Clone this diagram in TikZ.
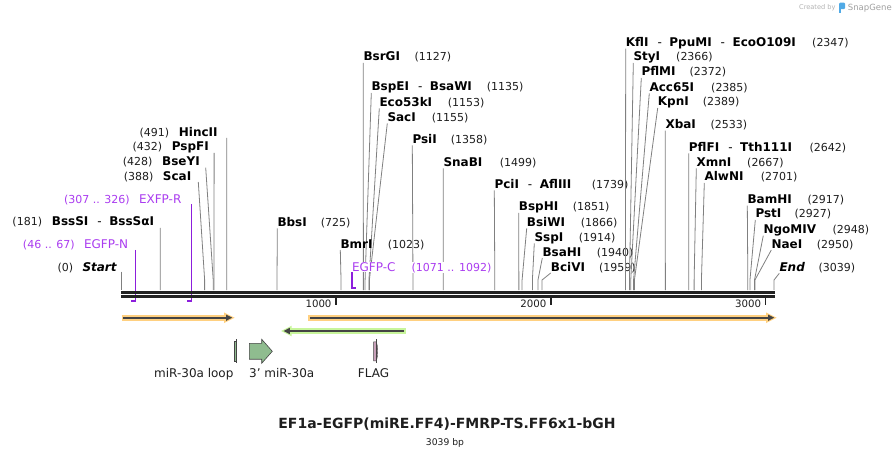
\documentclass[tikz,border=0pt]{standalone}
\usepackage{fontspec}
\setmainfont{DejaVu Sans}
\usetikzlibrary{arrows.meta}
\definecolor{linegray}{RGB}{128,128,128}
\definecolor{primlab}{RGB}{170,60,240}
\definecolor{primdark}{RGB}{140,30,220}
\definecolor{orhalo}{RGB}{255,208,128}
\definecolor{grhalo}{RGB}{200,245,155}
\definecolor{darkarrow}{RGB}{68,68,68}
\definecolor{featgreen}{RGB}{143,188,143}
\definecolor{flagpink}{RGB}{200,160,185}
\definecolor{numcol}{RGB}{30,30,30}
\definecolor{bbcol}{RGB}{34,34,34}
\definecolor{snapgray}{RGB}{160,160,160}
\definecolor{snapblue}{RGB}{80,170,230}
\newcommand\fs[1]{\fontsize{#1}{#1}\selectfont}
\newcommand\bpx[1]{(121.3+#1*0.21478)}
\newcommand\sepdash{\hspace{9pt}{\mdseries -}\hspace{7.5pt}}
% right-hand label: id, name, bp, x of name, x of number, y centre
\newcommand\enzR[6]{%
  \node[ename] (#1) at (#4,#6+4.3) {#2};
  \node[enum] (#1-n) at (#5,#6+4.3) {(#3)};
  \coordinate (#1-k) at ({\bpx{#3}},280);
  \coordinate (#1-b) at ({\bpx{#3}},290);
  \draw[cut] ([yshift=-2pt]#1.base west) -- (#1-k) -- (#1-b);
}
% left-hand label: id, name, bp, x of number, x of name, y centre, line start x, line start y
\newcommand\enzL[8]{%
  \node[enum] (#1-n) at (#4,#6+4.3) {(#3)};
  \node[ename] (#1) at (#5,#6+4.3) {#2};
  \coordinate (#1-s) at (#7,#8);
  \coordinate (#1-k) at ({\bpx{#3}},280);
  \coordinate (#1-b) at ({\bpx{#3}},290);
  \draw[cut] (#1-s) -- (#1-k) -- (#1-b);
}
\begin{document}
\begin{tikzpicture}[x=1pt,y=-1pt,
  ename/.style={anchor=base west, inner sep=0pt, font=\fs{12}\bfseries},
  enum/.style={anchor=base west, inner sep=0pt, font=\fs{11}, text=numcol},
  cut/.style={draw=linegray, line width=0.8pt},
  plab/.style={anchor=base west, inner sep=0.5pt, fill=white, text=primlab},
  pline/.style={draw=primdark, line width=1.6pt},
  flab/.style={anchor=base, inner sep=0pt, font=\fs{12}, text=numcol},
  ticklab/.style={anchor=base east, inner sep=0pt, font=\fs{10.2}, text=numcol},
  halo/.style={line width=5.6pt},
  orfline/.style={line width=2pt, draw=darkarrow}]
\useasboundingbox (0,0) rectangle (896,454);
\fill[white] (0,0) rectangle (896,454);

% ---------- enzyme sites, right-hand labels ----------
\enzR{bsrgi}{BsrGI}{1127}{363.3}{414.3}{56.7}
\enzR{bspei}{BspEI\sepdash BsaWI}{1135}{371.3}{486.7}{86.7}
\enzR{eco53ki}{Eco53kI}{1153}{379.3}{447.7}{102}
\enzR{saci}{SacI}{1155}{387.3}{431.7}{117}
\enzR{psii}{PsiI}{1358}{412.3}{450.7}{139}
\enzR{snabi}{SnaBI}{1499}{443.3}{499.7}{162}
\enzR{pcii}{PciI\sepdash AflIII}{1739}{494.3}{591.7}{184}
\enzR{bsphi}{BspHI}{1851}{518.7}{572.7}{206.7}
\enzR{bsiwi}{BsiWI}{1866}{526.7}{580.7}{222}
\enzR{sspi}{SspI}{1914}{534.3}{578.7}{237}
\enzR{bsahi}{BsaHI}{1940}{542.3}{596.7}{251.7}
\enzR{bcivi}{BciVI}{1959}{550.7}{599}{266.7}
\enzR{bbsi}{BbsI}{725}{277.3}{320.7}{222}
\enzR{bmri}{BmrI}{1023}{340.3}{387.7}{243.7}
\enzR{kfli}{KflI\sepdash PpuMI\sepdash EcoO109I}{2347}{625.7}{812}{42.3}
\enzR{styi}{StyI}{2366}{633.3}{676}{56.7}
\enzR{pflmi}{PflMI}{2372}{641.3}{689.3}{71.7}
\enzR{acc65i}{Acc65I}{2385}{649.3}{711}{87}
\enzR{kpni}{KpnI}{2389}{657.7}{702.7}{101.7}
\enzR{xbai}{XbaI}{2533}{665.3}{710.3}{124.3}
\enzR{pflfi}{PflFI\sepdash Tth111I}{2642}{688.7}{809.3}{147}
\enzR{xmni}{XmnI}{2667}{696.3}{747}{162}
\enzR{alwni}{AlwNI}{2701}{704.3}{760.7}{176.7}
\enzR{bamhi}{BamHI}{2917}{747.3}{807.3}{199.3}
\enzR{psti}{PstI}{2927}{755.3}{794.3}{213.7}
\enzR{ngomiv}{NgoMIV}{2948}{763.3}{832.3}{229.3}
\enzR{naei}{NaeI}{2950}{771.3}{816.7}{243.7}
\enzR{endm}{\itshape End}{3039}{779.3}{818.3}{267}

% ---------- enzyme sites, left-hand labels ----------
\enzL{startm}{\itshape Start}{0}{57.3}{82.3}{266.7}{121.3}{271.7}
\enzL{bsssi}{BssSI\sepdash BssSαI}{181}{12.3}{51.7}{221.7}{160.2}{228}
\enzL{scai}{ScaI}{388}{123.7}{162.7}{176.7}{198.3}{182}
\enzL{bseyi}{BseYI}{428}{122.7}{162}{161.7}{205.7}{167.7}
\enzL{pspfi}{PspFI}{432}{132.3}{171.7}{146.7}{214.1}{153}
\enzL{hincii}{HincII}{491}{139.3}{178.7}{132.3}{226.8}{138}

% ---------- primers ----------
\node[plab, font=\fs{11}] (egfpn-n) at (22.3,248.3) {(46 .. 67)};
\node[plab, font=\fs{12}] (egfpn) at (83.3,248.3) {EGFP-N};
\coordinate (egfpn-t) at (135.6,250);
\coordinate (egfpn-c) at (135.6,300.8);
\coordinate (egfpn-f) at (131.2,300.8);
\draw[pline] (egfpn-t) -- (egfpn-c) -- (egfpn-f);

\node[plab, font=\fs{11}] (exfpr-n) at (63.3,203.3) {(307 .. 326)};
\node[plab, font=\fs{12}] (exfpr) at (138.3,203.3) {EXFP-R};
\coordinate (exfpr-t) at (191.3,204.5);
\coordinate (exfpr-c) at (191.3,300.8);
\coordinate (exfpr-f) at (186.9,300.8);
\draw[pline] (exfpr-t) -- (exfpr-c) -- (exfpr-f);

\coordinate (egfpc-t) at (352,272);
\coordinate (egfpc-c) at (352,287.8);
\coordinate (egfpc-f) at (356.3,287.8);
\draw[pline] (egfpc-t) -- (egfpc-c) -- (egfpc-f);
\node[plab, font=\fs{12}] (egfpc) at (351.3,271) {EGFP-C};
\node[plab, font=\fs{11}] (egfpc-n) at (411,271) {(1071 .. 1092)};

% ---------- backbone ----------
\coordinate (bb0) at (121,292.3);
\coordinate (bb1) at (775,292.3);
\coordinate (bb2) at (121,296.3);
\coordinate (bb3) at (775,296.3);
\draw[bbcol, line width=2.6pt] (bb0) -- (bb1);
\draw[bbcol, line width=2.6pt] (bb2) -- (bb3);
\foreach \t/\lab in {1000/t1,2000/t2,3000/t3}{
  \coordinate (\lab-a) at ({\bpx{\t}},297);
  \coordinate (\lab-b) at ({\bpx{\t}},305);
  \draw[bbcol, line width=1.6pt] (\lab-a) -- (\lab-b);
  \node[ticklab] (\lab) at ({\bpx{\t}-4.4},307.8) {\t};
}

% ---------- ORFs ----------
\coordinate (o1s) at (121.7,317.7);
\coordinate (o1e) at (226,317.7);
\draw[halo, orhalo] (o1s) -- (o1e);
\fill[orhalo] (224,312.4) -- (234.6,317.7) -- (224,323) -- cycle;
\draw[orfline] ([xshift=1.3pt]o1s) -- ([xshift=1pt]o1e);
\fill[darkarrow] (226,314.5) -- (232.2,317.7) -- (226,320.9) -- cycle;

\coordinate (o2s) at (308.3,317.7);
\coordinate (o2e) at (768,317.7);
\draw[halo, orhalo] (o2s) -- (o2e);
\fill[orhalo] (766,312.4) -- (776.6,317.7) -- (766,323) -- cycle;
\draw[orfline] ([xshift=1.5pt]o2s) -- ([xshift=1pt]o2e);
\fill[darkarrow] (768,314.5) -- (774.2,317.7) -- (768,320.9) -- cycle;

\coordinate (o3s) at (405.7,331);
\coordinate (o3e) at (290,331);
\draw[halo, grhalo] (o3s) -- (o3e);
\fill[grhalo] (291.6,325.7) -- (281.2,331) -- (291.6,336.3) -- cycle;
\draw[orfline] ([xshift=-1.6pt]o3s) -- ([xshift=-1pt]o3e);
\fill[darkarrow] (289.8,327.8) -- (283.6,331) -- (289.8,334.2) -- cycle;

% ---------- features ----------
\filldraw[fill=featgreen, draw=darkarrow, line width=0.5pt] (234.4,341.5) rectangle (236.6,361.2);
\draw[darkarrow, line width=1pt] (236.8,339.3) -- (236.8,363.3);
\node[flab] (loop) at (193.8,377) {miR-30a loop};

\filldraw[fill=featgreen, draw=darkarrow, line width=0.6pt]
  (249.3,343.3) -- (261.7,343.3) -- (261.7,339.3) -- (272.3,351.3)
  -- (261.7,363.3) -- (261.7,359.2) -- (249.3,359.2) -- cycle;
\node[flab] (mir3) at (281.7,377) {3' miR-30a};

\filldraw[fill=flagpink, draw=darkarrow, line width=0.4pt]
  (373.6,341.8) -- (376.3,341.8) .. controls (378.2,346) and (378.2,356) .. (376.3,360.8) -- (373.6,360.8) -- cycle;
\draw[darkarrow, line width=1pt] (376.3,339.3) -- (376.3,363.3);
\node[flab] (flag) at (373.5,377) {FLAG};

% ---------- title ----------
\node[anchor=base, inner sep=0pt, font=\fs{14}\bfseries, text=numcol] (title) at (447,428.5) {EF1a-EGFP(miRE.FF4)-FMRP-TS.FF6x1-bGH};
\node[anchor=base, inner sep=0pt, font=\fs{9.2}, text=numcol] (len) at (445,445.5) {3039 bp};

% ---------- credit ----------
\node[anchor=base west, inner sep=0pt, font=\fs{6.6}, text=snapgray!80] (cred) at (799,9.8) {Created by};
\fill[snapblue, rounded corners=1.2pt] (839,2.6) rectangle (845.2,9.2);
\fill[snapblue] (839,7.5) rectangle (841.4,13.2);
\node[anchor=base west, inner sep=0pt, font=\fs{8.5}, text=snapgray] (snap) at (847.7,10.8) {SnapGene};
\end{tikzpicture}
\end{document}
